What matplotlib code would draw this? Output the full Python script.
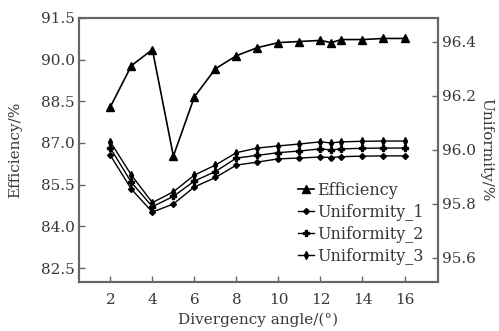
import matplotlib
matplotlib.use('Agg')
import matplotlib.pyplot as plt

# Data
angle = [2, 3, 4, 5, 6, 7, 8, 9, 10, 11, 12, 12.5, 13, 14, 15, 16]
efficiency = [88.30, 89.78, 90.36, 86.53, 88.66, 89.67, 90.14, 90.43, 90.61,
              90.65, 90.69, 90.61, 90.72, 90.72, 90.76, 90.76]
uniformity_1 = [95.980, 95.855, 95.770, 95.800, 95.863, 95.898, 95.944, 95.955,
                95.967, 95.970, 95.974, 95.972, 95.975, 95.977, 95.978, 95.978]
uniformity_2 = [96.007, 95.880, 95.790, 95.828, 95.885, 95.920, 95.970, 95.980,
                95.990, 95.996, 96.004, 96.000, 96.004, 96.006, 96.007, 96.007]
uniformity_3 = [96.030, 95.907, 95.805, 95.845, 95.907, 95.944, 95.990, 96.007,
                96.015, 96.022, 96.030, 96.026, 96.030, 96.032, 96.033, 96.033]

# wide serif face to mimic the horizontally stretched text of the source
plt.rcParams['font.family'] = 'DejaVu Serif'
txt = '#383838'
spine = '#666666'

fig = plt.figure(figsize=(4.99, 3.31), dpi=100)
ax = fig.add_axes([0.158, 0.148, 0.72, 0.798])
ax2 = ax.twinx()

l0, = ax.plot(angle, efficiency, color='black', lw=1.2, marker='^', ms=6,
              label='Efficiency')
l1, = ax2.plot(angle, uniformity_1, color='black', lw=1.0, marker='D', ms=3,
               label='Uniformity_1')
l2, = ax2.plot(angle, uniformity_2, color='black', lw=1.0, marker='P', ms=4,
               label='Uniformity_2')
l3, = ax2.plot(angle, uniformity_3, color='black', lw=1.0, marker='d', ms=4,
               label='Uniformity_3')

ax.set_xlim(0.5, 17.6)
ax.set_ylim(82.0, 91.5)
ax2.set_ylim(95.511, 96.489)
ax.set_xticks([2, 4, 6, 8, 10, 12, 14, 16])
ax.set_yticks([82.5, 84.0, 85.5, 87.0, 88.5, 90.0, 91.5])
ax2.set_yticks([95.6, 95.8, 96.0, 96.2, 96.4])
ax.set_yticklabels(['82.5', '84.0', '85.5', '87.0', '88.5', '90.0', '91.5'])

ax.set_xlabel('Divergency angle/(°)', fontsize=11, color=txt, labelpad=4)
ax.set_ylabel('Efficiency/%', fontsize=11, color=txt, labelpad=13)
ax2.set_ylabel('Uniformity/%', fontsize=11, color=txt, rotation=-90, labelpad=12)

for a in (ax, ax2):
    a.tick_params(direction='in', labelsize=11, labelcolor=txt, colors=spine,
                  length=4, width=1, pad=3)
    for s in a.spines.values():
        s.set_color(spine)
        s.set_linewidth(1.5)
ax.tick_params(axis='x', pad=8)

ax.legend(handles=[l0, l1, l2, l3], loc='lower right', frameon=False,
          fontsize=11.5, handlelength=1.0, handletextpad=0.15, labelspacing=0.32,
          borderaxespad=0.3, labelcolor=txt, bbox_to_anchor=(0.99, 0.022))

fig.savefig('out.png', dpi=100)
